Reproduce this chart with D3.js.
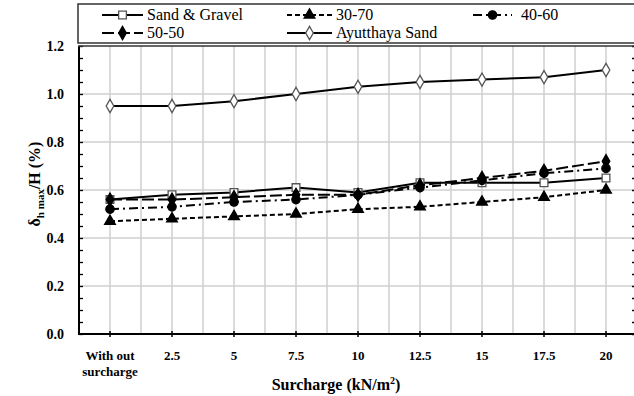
<!DOCTYPE html>
<html>
<head>
<meta charset="utf-8">
<script src="https://cdn.jsdelivr.net/npm/d3@7"></script>
<style>
body { margin: 0; background: #fff; }
svg { display: block; }
svg text { font-family: "Liberation Serif", "Times New Roman", serif; }
</style>
</head>
<body>
<div class="interactive-wrapper"></div>
<script>
const categories = ["With out surcharge", "2.5", "5", "7.5", "10", "12.5", "15", "17.5", "20"]

const sandGravel = [0.56, 0.58, 0.59, 0.61, 0.59, 0.63, 0.63, 0.63, 0.65]
const mix3070 = [0.47, 0.48, 0.49, 0.50, 0.52, 0.53, 0.55, 0.57, 0.60]
const mix4060 = [0.52, 0.53, 0.55, 0.56, 0.58, 0.61, 0.64, 0.67, 0.69]
const mix5050 = [0.56, 0.56, 0.57, 0.58, 0.58, 0.62, 0.65, 0.68, 0.72]
const ayutthaya = [0.95, 0.95, 0.97, 1.00, 1.03, 1.05, 1.06, 1.07, 1.10]

const seriesNames = ["Sand & Gravel", "30-70", "40-60", "50-50", "Ayutthaya Sand"]
const yTicks = [0, 0.2, 0.4, 0.6, 0.8, 1.0, 1.2]

let width = 634
let height = 396

let svg = d3.select(".interactive-wrapper").append('svg')
.attr('width', width)
.attr('height', height)

let x = d3.scaleBand()
.domain(categories)
.range([79, 637])

let y = d3.scaleLinear()
.domain([0, 1.2])
.range([334, 46])

let cx = d => x(d) + x.bandwidth() / 2

// series styles
let series = [
	{name: seriesNames[0], values: sandGravel, dash: null, marker: 'square', fill: '#fff'},
	{name: seriesNames[1], values: mix3070, dash: '5,3', marker: 'triangle', fill: '#000'},
	{name: seriesNames[2], values: mix4060, dash: '9,4,2,4', marker: 'circle', fill: '#000'},
	{name: seriesNames[3], values: mix5050, dash: '12,4', marker: 'diamond', fill: '#000'},
	{name: seriesNames[4], values: ayutthaya, dash: null, marker: 'diamond', fill: '#fff'}
]

const symbols = {
	square: d3.symbol().type(d3.symbolSquare).size(60),
	triangle: d3.symbol().type(d3.symbolTriangle).size(50),
	circle: d3.symbol().type(d3.symbolCircle).size(55),
	diamond: d3.symbol().type(d3.symbolDiamond).size(50)
}

// grid
let grid = svg.append('g')

let bounds = categories.map(c => x(c)).concat([x.range()[1]])

grid.selectAll('.vgrid-c')
.data(categories)
.enter()
.append('line')
.attr('x1', cx).attr('x2', cx)
.attr('y1', y(1.2)).attr('y2', y(0))
.style('stroke', '#cfcfcf')
.style('stroke-width', 1.5)

grid.selectAll('.vgrid-b')
.data(bounds.slice(1))
.enter()
.append('line')
.attr('x1', d => d).attr('x2', d => d)
.attr('y1', y(1.2)).attr('y2', y(0))
.style('stroke', '#cfcfcf')
.style('stroke-width', 1.5)

grid.selectAll('.hgrid')
.data(yTicks.slice(1, -1))
.enter()
.append('line')
.attr('x1', 79).attr('x2', width)
.attr('y1', d => y(d)).attr('y2', d => y(d))
.style('stroke', '#cfcfcf')
.style('stroke-width', 1.5)

// axes
let minor = d3.range(0, 1.2001, 0.05)

svg.append('g')
.attr('transform', 'translate(79,0)')
.call(d3.axisRight(y).tickValues(minor).tickSize(4).tickFormat(''))
.call(g => g.select('.domain').remove())
.selectAll('line').style('stroke', '#000').style('stroke-width', 1.3)

svg.append('g')
.attr('transform', 'translate(636,0)')
.call(d3.axisLeft(y).tickValues(minor).tickSize(4).tickFormat(''))
.call(g => g.select('.domain').remove())
.selectAll('line').style('stroke', '#000').style('stroke-width', 1.3)

svg.append('line')
.attr('x1', 79).attr('x2', 79)
.attr('y1', y(1.2)).attr('y2', y(0) + 1)
.style('stroke', '#000').style('stroke-width', 2)

svg.append('line')
.attr('x1', 78).attr('x2', width)
.attr('y1', y(0)).attr('y2', y(0))
.style('stroke', '#000').style('stroke-width', 2)

svg.append('line')
.attr('x1', 78).attr('x2', width)
.attr('y1', y(1.2)).attr('y2', y(1.2))
.style('stroke', '#333').style('stroke-width', 1.5)

svg.selectAll('.xtick')
.data(categories)
.enter()
.append('line')
.attr('x1', cx).attr('x2', cx)
.attr('y1', y(0) - 3).attr('y2', y(0) + 3)
.style('stroke', '#000').style('stroke-width', 1.5)

// tick labels
svg.selectAll('.ylab')
.data(yTicks)
.enter()
.append('text')
.attr('x', 64)
.attr('y', d => y(d) + 5)
.attr('text-anchor', 'end')
.style('font-weight', 'bold')
.style('font-size', '14px')
.text(d => d3.format('.1f')(d))

let xl = svg.selectAll('.xlab')
.data(categories)
.enter()
.append('text')
.attr('x', cx)
.attr('y', 360)
.attr('text-anchor', 'middle')
.style('font-weight', 'bold')
.style('font-size', '13px')

xl.each(function(d) {
	let words = d === categories[0] ? ['With out', 'surcharge'] : [d]
	d3.select(this).selectAll('tspan')
	.data(words)
	.enter()
	.append('tspan')
	.attr('x', cx(d))
	.attr('dy', (w, i) => i === 0 ? 0 : 16)
	.text(w => w)
})

// axis titles
let xt = svg.append('text')
.attr('x', 336)
.attr('y', 390)
.attr('text-anchor', 'middle')
.style('font-weight', 'bold')
.style('font-size', '16px')
xt.append('tspan').text('Surcharge (kN/m')
xt.append('tspan').attr('dy', -6).style('font-size', '10px').text('2')
xt.append('tspan').attr('dy', 6).text(')')

let yt = svg.append('text')
.attr('transform', 'translate(40,184) rotate(-90)')
.attr('text-anchor', 'middle')
.style('font-weight', 'bold')
.style('font-size', '16px')
yt.append('tspan').text('δ')
yt.append('tspan').attr('dy', 4).style('font-size', '11px').text('h max')
yt.append('tspan').attr('dy', -4).text('/H (%)')

// lines and markers
let line = d3.line()
.x((d, i) => cx(categories[i]))
.y(d => y(d))

series.forEach(s => {
	svg.append('path')
	.attr('d', line(s.values))
	.style('fill', 'none')
	.style('stroke', '#000')
	.style('stroke-width', 2)
	.style('stroke-dasharray', s.dash)

	svg.selectAll(null)
	.data(s.values)
	.enter()
	.append('path')
	.attr('d', symbols[s.marker])
	.attr('transform', (d, i) => 'translate(' + cx(categories[i]) + ',' + y(d) + ')')
	.style('fill', s.fill)
	.style('stroke', s.fill === '#fff' ? '#555' : '#000')
	.style('stroke-width', 1.3)
})

// legend
svg.append('rect')
.attr('x', 78)
.attr('y', 4)
.attr('width', 600)
.attr('height', 39)
.style('fill', '#fff')
.style('stroke', '#333')
.style('stroke-width', 1.5)

let legendPos = [
	{x1: 102, x2: 143, y: 15},
	{x1: 287, x2: 332, y: 15},
	{x1: 473, x2: 512, y: 15},
	{x1: 102, x2: 143, y: 33},
	{x1: 287, x2: 332, y: 33}
]

series.forEach((s, i) => {
	let p = legendPos[i]
	let g = svg.append('g')

	g.append('line')
	.attr('x1', p.x1).attr('x2', p.x2)
	.attr('y1', p.y).attr('y2', p.y)
	.style('stroke', '#000')
	.style('stroke-width', 2)
	.style('stroke-dasharray', s.dash)

	g.append('path')
	.attr('d', symbols[s.marker])
	.attr('transform', 'translate(' + (p.x1 + p.x2) / 2 + ',' + p.y + ')')
	.style('fill', s.fill)
	.style('stroke', s.fill === '#fff' ? '#555' : '#000')
	.style('stroke-width', 1.3)

	g.append('text')
	.attr('x', p.x2 + (i === 2 ? 9 : 4))
	.attr('y', p.y + 5)
	.style('font-size', '16px')
	.text(s.name)
})
</script>
</body>
</html>
